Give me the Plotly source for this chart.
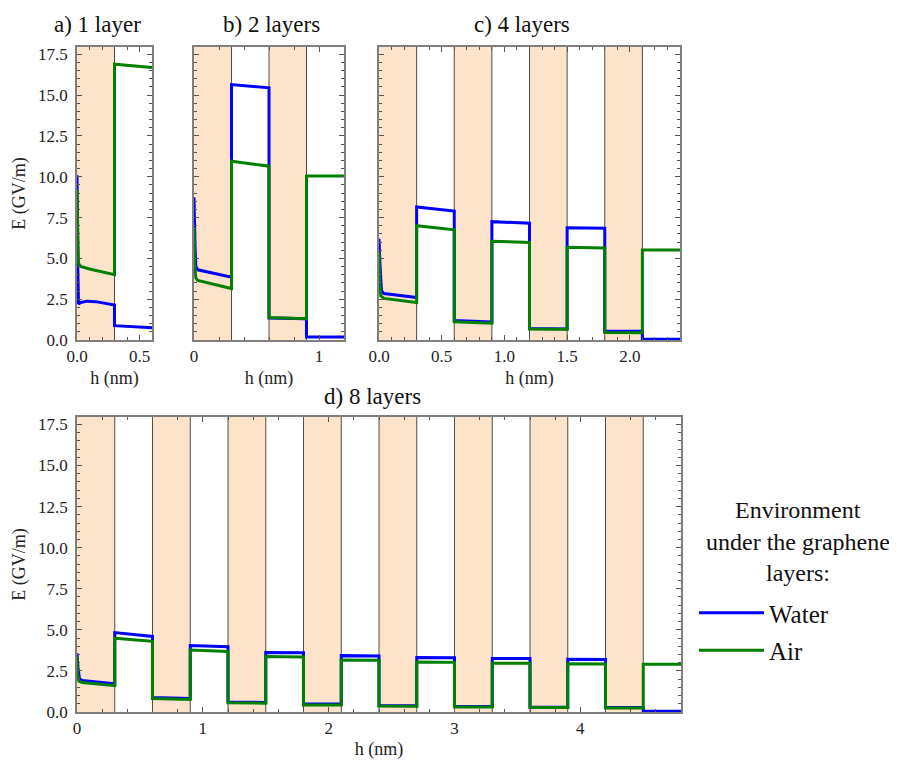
import plotly.graph_objects as go

# ---------------- data (h in nm, E in GV/m) ----------------
LAYER_T = 0.3  # thickness of each region (nm)
panel_titles = ["a) 1 layer", "b) 2 layers", "c) 4 layers", "d) 8 layers"]
n_layers = [1, 2, 4, 8]
legend_title_lines = ["Environment", "under the graphene", "layers:"]

# panel a (1 layer)
a_water_first_h = [0, 0.003, 0.006, 0.012, 0.03, 0.08, 0.15, 0.3]
a_water_first_E = [10.1, 4.8, 4.6, 2.2, 2.3, 2.38, 2.35, 2.15]
a_water_start = [0.88]
a_water_end = [0.75]
a_air_first_h = [0, 0.004, 0.008, 0.012, 0.03, 0.1, 0.3]
a_air_first_E = [9.2, 6.1, 6.0, 4.7, 4.5, 4.35, 4.0]
a_air_start = [16.9]
a_air_end = [16.7]

# panel b (2 layers)
b_water_first_h = [0, 0.004, 0.008, 0.015, 0.03, 0.3]
b_water_first_E = [8.75, 5.9, 5.8, 4.5, 4.3, 3.85]
b_water_start = [15.65, 1.35, 0.18]
b_water_end = [15.45, 1.3, 0.18]
b_air_first_h = [0, 0.005, 0.015, 0.03, 0.3]
b_air_first_E = [6.9, 4.5, 3.8, 3.65, 3.15]
b_air_start = [10.95, 1.38, 10.05]
b_air_end = [10.65, 1.3, 10.05]

# panel c (4 layers)
c_water_first_h = [0, 0.004, 0.008, 0.02, 0.04, 0.3]
c_water_first_E = [6.2, 4.7, 4.6, 3.0, 2.85, 2.6]
c_water_start = [8.15, 1.2, 7.25, 0.7, 6.88, 0.55, 0.05]
c_water_end = [7.9, 1.1, 7.15, 0.68, 6.85, 0.53, 0.05]
c_air_first_h = [0, 0.005, 0.015, 0.04, 0.3]
c_air_first_E = [5.4, 3.5, 2.7, 2.55, 2.3]
c_air_start = [7.0, 1.12, 6.05, 0.68, 5.68, 0.46, 5.52]
c_air_end = [6.75, 1.03, 5.98, 0.66, 5.64, 0.45, 5.52]

# panel d (8 layers)
d_water_first_h = [0, 0.004, 0.008, 0.02, 0.04, 0.3]
d_water_first_E = [3.57, 2.8, 2.7, 2.0, 1.92, 1.72]
d_water_start = [4.83, 0.88, 4.04, 0.61, 3.62, 0.5, 3.43, 0.4, 3.32, 0.34, 3.26, 0.3, 3.21, 0.28, 0.05]
d_water_end = [4.6, 0.82, 3.97, 0.58, 3.6, 0.48, 3.41, 0.38, 3.3, 0.33, 3.25, 0.29, 3.2, 0.27, 0.05]
d_air_first_h = [0, 0.005, 0.015, 0.04, 0.3]
d_air_first_E = [3.37, 2.3, 1.88, 1.8, 1.6]
d_air_start = [4.49, 0.82, 3.77, 0.56, 3.37, 0.43, 3.17, 0.36, 3.04, 0.3, 2.97, 0.27, 2.93, 0.25, 2.9]
d_air_end = [4.3, 0.76, 3.68, 0.54, 3.35, 0.42, 3.15, 0.35, 3.02, 0.3, 2.96, 0.27, 2.92, 0.25, 2.9]

water = [(a_water_first_h, a_water_first_E, a_water_start, a_water_end),
         (b_water_first_h, b_water_first_E, b_water_start, b_water_end),
         (c_water_first_h, c_water_first_E, c_water_start, c_water_end),
         (d_water_first_h, d_water_first_E, d_water_start, d_water_end)]
air = [(a_air_first_h, a_air_first_E, a_air_start, a_air_end),
       (b_air_first_h, b_air_first_E, b_air_start, b_air_end),
       (c_air_first_h, c_air_first_E, c_air_start, c_air_end),
       (d_air_first_h, d_air_first_E, d_air_start, d_air_end)]


def build(first_h, first_E, starts, ends):
    xs, ys = list(first_h), list(first_E)
    for k, (s, e) in enumerate(zip(starts, ends), start=1):
        xs += [k * LAYER_T, (k + 1) * LAYER_T]
        ys += [s, e]
    return xs, ys

# ---------------- layout ----------------
# the page body has an 8 px margin, so the figure is 8 px smaller and all
# screen positions below are shifted by that offset
OFF = 8
W, H = 897 - OFF, 760 - OFF
def fx(px): return (px - OFF) / W
def fy(py): return 1 - (py - OFF) / H

SERIF = "Liberation Serif, 'Times New Roman', Times, 'DejaVu Serif', serif"
BLUE, GREEN = "#0000FF", "#008000"
SHADE = "#FDE3C9"
FRAME = "#7f7f7f"
TXT = "#222222"

# screen pixel boxes (left, right, top, bottom)
boxes = [(77, 152, 47, 340), (194, 344, 47, 340), (379, 680, 47, 340), (77, 681, 417, 712)]
title_pos = [(97, 24), (271, 24), (522, 24), (372, 396)]
x_dtick = [0.5, 1, 0.5, 1]
x_minor = [0.1, 0.2, 0.1, 0.2]
x_fmt = [".1f", "d", ".1f", "d"]
YMAX = 17.95

fig = go.Figure()
shapes = []
annotations = []

for i in range(4):
    ax = "" if i == 0 else str(i + 1)
    xref, yref = "x" + ax, "y" + ax
    n_seg = 2 * n_layers[i]
    xmax = n_seg * LAYER_T

    wx, wy = build(*water[i])
    gx, gy = build(*air[i])
    fig.add_trace(go.Scatter(x=wx, y=wy, mode="lines", name="Water", legendgroup="water",
                             line=dict(color=BLUE, width=3), xaxis=xref, yaxis=yref,
                             showlegend=(i == 0), legendrank=1))
    fig.add_trace(go.Scatter(x=gx, y=gy, mode="lines", name="Air", legendgroup="air",
                             line=dict(color=GREEN, width=3), xaxis=xref, yaxis=yref,
                             showlegend=(i == 0), legendrank=2))

    for k in range(n_seg):
        if k % 2 == 0:
            shapes.append(dict(type="rect", xref=xref, yref=yref + " domain",
                               x0=k * LAYER_T, x1=(k + 1) * LAYER_T, y0=0, y1=1,
                               fillcolor=SHADE, line=dict(width=0), layer="below"))
        if k > 0:
            shapes.append(dict(type="line", xref=xref, yref=yref + " domain",
                               x0=k * LAYER_T, x1=k * LAYER_T, y0=0, y1=1,
                               line=dict(color="#4d4d4d", width=1), layer="below"))

    l, r, t, b = boxes[i]
    show_ylabels = i in (0, 3)
    fig.update_layout({
        "xaxis" + ax: dict(
            domain=[fx(l), fx(r)], anchor=yref, range=[0, xmax], automargin=False,
            showline=True, linecolor=FRAME, linewidth=1.5, mirror="ticks",
            ticks="inside", ticklen=5, tickcolor="#555555", dtick=x_dtick[i], tick0=0,
            tickformat=x_fmt[i], showgrid=False, zeroline=False,
            minor=dict(ticks="inside", ticklen=3, dtick=x_minor[i], tick0=0, tickcolor="#555555"),
            tickfont=dict(family=SERIF, size=17, color=TXT),
            title=dict(text="h (nm)", font=dict(family=SERIF, size=18, color=TXT), standoff=6),
        ),
        "yaxis" + ax: dict(
            domain=[fy(b), fy(t)], anchor=xref, range=[0, YMAX], automargin=False,
            showline=True, linecolor=FRAME, linewidth=1.5, mirror="ticks",
            ticks="inside", ticklen=5, tickcolor="#555555", dtick=2.5, tick0=0,
            tickformat=".1f", showgrid=False, zeroline=False, showticklabels=show_ylabels,
            ticklabelstandoff=4,
            minor=dict(ticks="inside", ticklen=3, dtick=0.5, tick0=0, tickcolor="#555555"),
            tickfont=dict(family=SERIF, size=17, color=TXT),
            title=dict(text="E (GV/m)" if show_ylabels else "",
                       font=dict(family=SERIF, size=18, color=TXT), standoff=8),
        ),
    })
    tx, ty = title_pos[i]
    annotations.append(dict(text=panel_titles[i], xref="paper", yref="paper",
                            x=fx(tx), y=fy(ty), xanchor="center", yanchor="middle",
                            showarrow=False, font=dict(family=SERIF, size=23, color="#111111")))

# legend title lines, centred above the legend entries
for j, line in enumerate(legend_title_lines):
    annotations.append(dict(text=line, xref="paper", yref="paper",
                            x=fx(798), y=fy(510 + 31.5 * j), xanchor="center", yanchor="middle",
                            showarrow=False, font=dict(family=SERIF, size=24, color="#111111")))

fig.update_layout(
    width=W, height=H, margin=dict(l=0, r=0, t=0, b=0),
    paper_bgcolor="white", plot_bgcolor="white",
    shapes=shapes, annotations=annotations,
    legend=dict(
        x=fx(694), y=fy(590), xanchor="left", yanchor="top",
        font=dict(family=SERIF, size=25, color="#111111"),
        bgcolor="rgba(0,0,0,0)", itemwidth=65, tracegroupgap=2,
    ),
)

fig.write_html("out.html")
